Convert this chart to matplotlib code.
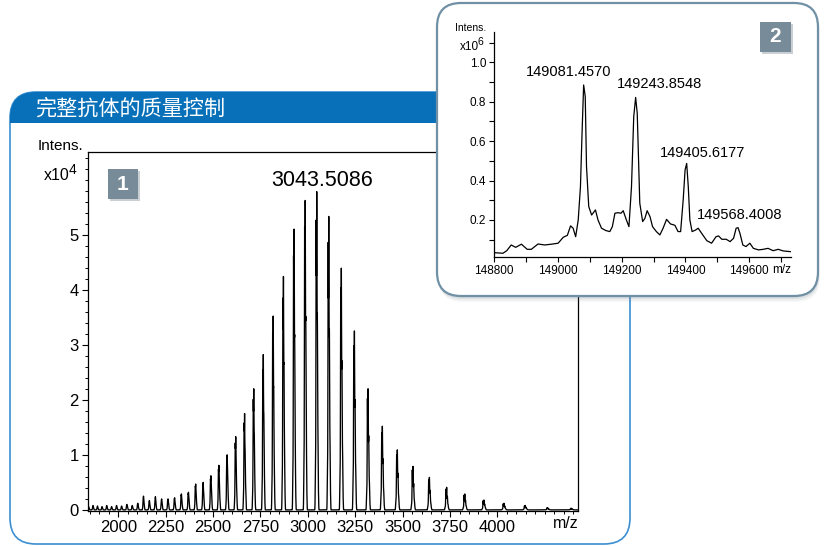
import numpy as np
import matplotlib
import matplotlib.pyplot as plt
from matplotlib.patches import FancyBboxPatch, Rectangle
from matplotlib.ticker import MultipleLocator, FixedLocator, FormatStrFormatter
matplotlib.use('Agg')

plt.rcParams['font.family'] = ['Liberation Sans', 'Noto Sans CJK SC']

W, H = 826, 546

# main ESI spectrum: charge state, peak m/z, peak height (x10^4)
charges = list(range(34, 82))
peak_mz = [4385.8, 4260.5, 4142.2, 4030.2, 3924.2, 3823.6, 3728.0, 3637.1,
           3550.6, 3468.0, 3389.2, 3313.9, 3241.9, 3173.0, 3106.9, 3043.5,
           2982.6, 2924.2, 2868.0, 2813.9, 2761.8, 2711.6, 2663.2, 2616.5,
           2571.4, 2527.8, 2485.7, 2445.0, 2405.5, 2367.4, 2330.4, 2294.6,
           2259.8, 2226.1, 2193.4, 2161.6, 2130.7, 2100.8, 2071.6, 2043.2,
           2015.6, 1988.8, 1962.6, 1937.1, 1912.3, 1888.1, 1864.5, 1841.5]
peak_int = [0.03, 0.04, 0.08, 0.12, 0.18, 0.29, 0.41, 0.59,
            0.79, 1.09, 1.52, 2.20, 3.25, 4.39, 5.33, 5.78,
            5.62, 5.10, 4.24, 3.52, 2.82, 2.20, 1.75, 1.33,
            1.00, 0.81, 0.62, 0.50, 0.47, 0.32, 0.29, 0.22,
            0.20, 0.20, 0.24, 0.17, 0.25, 0.12, 0.08, 0.10,
            0.07, 0.08, 0.06, 0.08, 0.06, 0.07, 0.08, 0.06]

# deconvoluted spectrum (inset), mass vs intensity (x10^6)
decon_mass = [148800, 148828, 148840, 148854, 148868, 148886, 148904, 148917,
              148938, 148959, 148980, 149001, 149017, 149030, 149040, 149048,
              149056, 149064, 149071, 149076, 149081, 149086, 149090, 149097,
              149106, 149118, 149126, 149137, 149151, 149163, 149171, 149179,
              149189, 149198, 149205, 149215, 149223, 149231, 149238, 149244,
              149249, 149257, 149266, 149273, 149280, 149289, 149297, 149309,
              149320, 149330, 149341, 149353, 149367, 149377, 149385, 149393,
              149399, 149404, 149409, 149414, 149421, 149432, 149440, 149451,
              149467, 149482, 149496, 149504, 149514, 149528, 149540, 149551,
              149559, 149565, 149571, 149580, 149590, 149602, 149613, 149629,
              149644, 149659, 149675, 149691, 149706, 149730]
decon_int = [0.034, 0.031, 0.044, 0.073, 0.061, 0.077, 0.051, 0.051,
             0.078, 0.073, 0.077, 0.082, 0.112, 0.122, 0.170, 0.158,
             0.115, 0.200, 0.369, 0.640, 0.885, 0.826, 0.471, 0.268,
             0.225, 0.251, 0.200, 0.158, 0.146, 0.141, 0.166, 0.234,
             0.237, 0.234, 0.247, 0.200, 0.166, 0.369, 0.724, 0.822,
             0.741, 0.285, 0.192, 0.208, 0.247, 0.217, 0.166, 0.141,
             0.124, 0.158, 0.203, 0.180, 0.173, 0.141, 0.141, 0.301,
             0.454, 0.487, 0.369, 0.200, 0.141, 0.149, 0.158, 0.132,
             0.095, 0.082, 0.115, 0.119, 0.102, 0.102, 0.090, 0.107,
             0.158, 0.161, 0.132, 0.073, 0.065, 0.082, 0.056, 0.048,
             0.051, 0.056, 0.044, 0.051, 0.043, 0.039]
decon_labels = ['149081.4570', '149243.8548', '149405.6177', '149568.4008']
main_label = '3043.5086'

# build the m/z trace: each charge state carries the deconvoluted profile,
# broadened a little for the instrument resolution in m/z
prof_m = np.array(decon_mass, dtype=float)
prof_i = np.clip(np.array(decon_int) - 0.03, 0, None)
step = 0.1
mz = np.arange(1830, 4430, step)
spec = np.zeros_like(mz)
kx = np.arange(-4, 4 + step, step)
kern = np.exp(-0.5 * (kx / 0.9) ** 2)
kern /= kern.sum()
for z, c, h in zip(charges, peak_mz, peak_int):
    part = np.interp((mz - c) * z + 149081.457, prof_m, prof_i, left=0, right=0)
    part = np.convolve(part, kern, mode='same')
    spec += h * part / part.max()


def px_rect(l, t, r, b):
    return [l / W, 1 - b / H, (r - l) / W, (b - t) / H]


fig = plt.figure(figsize=(W / 100, H / 100), dpi=100)

# background panel with blue header band
bg = fig.add_axes([0, 0, 1, 1], zorder=0)
bg.set_xlim(0, W)
bg.set_ylim(H, 0)
bg.axis('off')
panel = FancyBboxPatch((10, 92), 620, 452, boxstyle='round,pad=0,rounding_size=26',
                       fc='white', ec='#3b8fd2', lw=1.2)
bg.add_patch(panel)
band = Rectangle((10, 92), 620, 31, fc='#0870b8', ec='none')
bg.add_patch(band)
band.set_clip_path(panel)
bg.text(35, 109, '完整抗体的质量控制', color='white', fontsize=15.2,
        ha='left', va='center', family=['Noto Sans CJK SC'])

# badge 1
bg.add_patch(Rectangle((110, 171), 30, 30, fc='#c9cfd3', ec='none'))
bg.add_patch(Rectangle((108, 169), 30, 30, fc='#778c98', ec='none'))
bg.text(123, 185, '1', color='white', fontsize=15, weight='bold', ha='center', va='center')

# main spectrum
ax = fig.add_axes(px_rect(88, 152, 578, 511), zorder=1)
ax.set_facecolor('none')
ax.plot(mz, spec, color='black', lw=0.95)
ax.set_xlim(1840, 4425)
ax.set_ylim(-0.02, 6.5)
ax.xaxis.set_major_locator(FixedLocator([2000, 2250, 2500, 2750, 3000, 3250, 3500, 3750, 4000]))
ax.xaxis.set_minor_locator(MultipleLocator(50))
ax.yaxis.set_major_locator(FixedLocator([0, 1, 2, 3, 4, 5]))
ax.yaxis.set_minor_locator(MultipleLocator(0.2))
ax.tick_params(which='major', direction='out', length=4.5, width=0.8, labelsize=12, pad=2)
ax.tick_params(which='minor', direction='out', length=2.5, width=0.7)
for s in ax.spines.values():
    s.set_linewidth(0.9)
bg.text(322, 181, main_label, fontsize=15.5, ha='center', va='center')
bg.text(83, 146, 'Intens.', fontsize=11, ha='right', va='center')
bg.text(70, 176, 'x10', fontsize=11.5, ha='right', va='center')
bg.text(68.5, 170, '4', fontsize=10, ha='left', va='center')
bg.text(566, 524, 'm/z', fontsize=11.5, ha='center', va='center')

# inset box with soft shadow
ov = fig.add_axes([0, 0, 1, 1], zorder=2)
ov.set_xlim(0, W)
ov.set_ylim(H, 0)
ov.axis('off')
for k, a in zip([6, 4.5, 3, 1.5], [0.06, 0.08, 0.1, 0.12]):
    ov.add_patch(FancyBboxPatch((437 + k * 0.3, 3 + k), 381, 293,
                                boxstyle='round,pad=0,rounding_size=24',
                                fc='#6d7b86', ec='none', alpha=a))
ov.add_patch(FancyBboxPatch((437, 3), 381, 293, boxstyle='round,pad=0,rounding_size=24',
                            fc='white', ec='#6f90a5', lw=1.6))
ov.add_patch(Rectangle((762, 24), 31, 30, fc='#c9cfd3', ec='none'))
ov.add_patch(Rectangle((760, 22), 31, 30, fc='#778c98', ec='none'))
ov.text(775.5, 37, '2', color='white', fontsize=15, weight='bold', ha='center', va='center')

# deconvoluted inset
ax2 = fig.add_axes(px_rect(494, 32, 791, 257), zorder=3)
ax2.set_facecolor('none')
ax2.plot(decon_mass, decon_int, color='black', lw=0.9)
ax2.set_xlim(148800, 149731)
ax2.set_ylim(0.012, 1.154)
ax2.spines['top'].set_visible(False)
ax2.spines['right'].set_visible(False)
ax2.xaxis.set_major_locator(FixedLocator([148800, 149000, 149200, 149400, 149600]))
ax2.xaxis.set_minor_locator(MultipleLocator(100))
ax2.yaxis.set_major_locator(FixedLocator([0.2, 0.4, 0.6, 0.8, 1.0]))
ax2.yaxis.set_minor_locator(FixedLocator([0.1, 0.3, 0.5, 0.7, 0.9, 1.1]))
ax2.yaxis.set_major_formatter(FormatStrFormatter('%.1f'))
ax2.tick_params(which='major', direction='out', length=3.5, width=0.8, labelsize=8.5, pad=2)
ax2.tick_params(which='minor', direction='out', length=3.5, width=0.8)
for s in ax2.spines.values():
    s.set_linewidth(0.9)
ax2.text(471, 28, 'Intens.', fontsize=7.5, ha='center', va='center', transform=bg.transData)
ax2.text(479, 47, 'x10', fontsize=8.5, ha='right', va='center', transform=bg.transData)
ax2.text(478, 42, '6', fontsize=7.5, ha='left', va='center', transform=bg.transData)
ax2.text(782, 270, 'm/z', fontsize=8.5, ha='center', va='center', transform=bg.transData)
label_pos = [(569, 72), (660, 84), (703, 153), (740, 215)]
for (x, y), s in zip(label_pos, decon_labels):
    ax2.text(x, y, s, fontsize=10.5, ha='center', va='center', transform=bg.transData)

fig.savefig('out.png', dpi=100)
